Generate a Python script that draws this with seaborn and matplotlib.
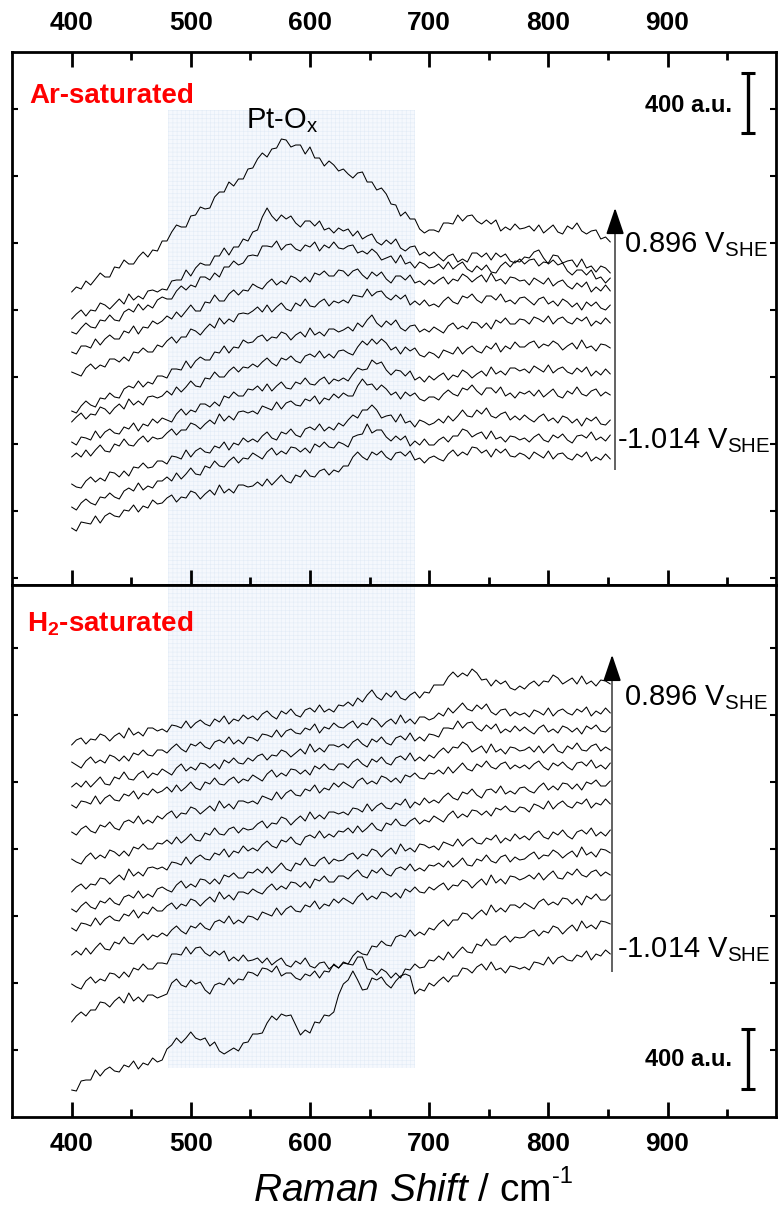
import numpy as np
import matplotlib
matplotlib.use("Agg")
import matplotlib.pyplot as plt
import seaborn as sns

# ---------------- data ----------------
wavenumber = list(range(400, 853, 4))          # Raman shift, cm-1 (114 points)
COUNT_TO_AU = 20 / 3                           # stored counts -> a.u.

# Ar-saturated, stacked spectra, top (0.896 V) ... bottom (-1.014 V)
ar_01 = [293,298,296,304,300,306,312,308,308,318,317,325,321,321,328,333,328,335,334,
         344,344,353,360,358,358,369,370,378,376,377,388,393,393,403,399,406,406,416,
         417,426,432,428,436,437,446,445,438,440,440,431,438,427,427,419,424,420,414,
         416,411,407,412,413,403,403,395,397,391,381,380,369,373,366,366,356,352,355,
         355,353,362,362,361,370,364,369,370,364,361,365,361,365,354,358,355,361,356,
         357,359,354,360,352,356,360,353,351,359,356,362,354,351,354,355,346,348,343]
ar_02 = [266,271,275,269,275,274,282,280,276,281,286,281,291,285,289,286,294,295,293,
         296,295,304,305,305,315,309,317,322,320,320,329,329,337,330,338,338,346,344,
         353,355,368,377,369,364,370,366,369,362,358,364,364,359,364,355,357,352,357,
         354,356,349,354,346,349,351,343,340,345,341,346,337,334,338,339,330,333,329,
         333,328,324,329,331,323,326,323,332,332,328,332,325,332,328,331,324,322,326,
         321,325,326,319,323,322,330,329,322,324,325,318,326,317,319,313,319,317,312]
ar_03 = [253,251,257,262,258,257,265,264,270,265,264,273,276,273,281,275,280,277,285,
         288,286,286,294,299,295,300,298,308,308,305,312,308,318,318,324,320,322,329,
         330,329,339,339,338,344,335,340,341,336,334,340,338,343,334,340,337,343,337,
         336,339,340,332,334,331,336,332,325,327,329,322,330,321,323,317,323,321,317,
         318,321,316,323,316,320,323,316,313,319,315,320,313,312,319,323,318,324,323,
         328,327,333,335,327,321,325,320,322,314,310,315,315,310,315,306,308,302,307]
ar_04 = [233,231,239,239,237,246,240,246,250,246,246,254,252,259,251,258,257,264,261,
         264,269,266,273,268,274,280,274,274,283,282,290,284,284,291,295,290,295,294,
         301,298,296,302,306,300,304,301,309,307,303,308,303,312,310,314,309,309,315,
         314,309,314,316,310,306,313,309,313,306,302,309,309,305,310,302,304,300,305,
         301,305,308,301,306,304,311,308,303,307,310,303,312,304,306,301,308,307,304,
         305,300,307,304,301,307,299,303,305,299,296,302,298,303,293,298,294,300,294]
ar_05 = [213,211,209,217,221,216,220,218,226,226,223,228,224,233,232,237,233,233,240,
         238,244,248,242,248,248,256,254,250,256,261,257,267,261,266,263,271,272,271,
         274,278,273,280,273,278,282,276,274,282,279,286,279,278,283,286,279,284,282,
         285,282,290,289,288,296,289,293,294,288,285,290,286,290,280,284,280,285,279,
         281,278,284,288,283,281,289,287,291,285,282,289,289,285,291,283,285,281,287,
         288,284,280,286,288,281,284,279,286,283,278,282,275,283,279,283,277,275,280]
ar_06 = [174,172,179,184,180,178,187,186,192,188,187,196,199,197,204,198,203,201,209,
         209,207,216,216,215,224,217,224,228,225,225,233,232,239,232,238,237,245,242,
         243,248,250,244,248,247,253,251,245,250,253,248,257,250,253,249,256,256,253,
         255,258,254,262,258,265,270,262,258,264,260,265,257,254,259,260,253,256,253,
         258,255,252,259,262,256,259,256,263,262,257,262,256,265,262,267,261,261,266,
         265,261,268,266,263,269,261,266,268,263,261,267,264,268,259,264,261,267,262]
ar_07 = [163,168,172,166,171,170,178,176,171,177,181,176,186,180,184,180,188,189,187,
         189,194,190,198,193,198,204,199,198,207,206,213,208,208,214,218,213,218,217,
         221,218,223,227,222,219,227,225,229,224,222,229,231,228,234,227,231,227,234,
         235,232,230,238,244,240,246,241,246,242,235,238,231,238,234,237,230,228,233,
         231,227,235,233,231,238,231,236,239,234,232,239,236,242,233,239,236,243,238,
         238,242,244,237,241,239,244,241,235,239,242,236,245,237,239,234,241,240,237]
ar_08 = [143,140,148,147,145,154,147,153,156,152,151,158,156,162,154,161,159,166,162,
         167,165,163,171,176,170,175,173,181,181,178,183,179,189,187,193,189,189,196,
         195,199,194,201,194,199,203,197,196,203,201,207,201,200,205,208,201,206,204,
         207,204,211,217,215,216,225,221,223,215,210,215,214,209,214,205,208,203,209,
         205,209,212,205,210,208,215,212,207,211,214,209,218,211,214,210,217,217,214,
         216,212,219,216,213,220,212,216,218,213,211,217,213,218,209,214,210,216,211]
ar_09 = [128,132,128,135,129,135,140,134,133,141,139,146,140,139,145,149,143,148,146,
         147,152,156,150,155,155,162,160,156,161,165,161,171,164,169,165,173,174,172,
         174,171,179,177,175,183,176,182,184,180,179,186,184,189,181,187,185,191,187,
         192,189,189,199,206,200,201,195,200,196,190,193,186,193,189,192,186,184,188,
         188,185,191,195,191,189,197,195,200,194,190,197,197,192,198,189,192,187,193,
         191,194,189,195,188,192,196,189,187,194,191,198,191,189,194,196,189,193,190]
ar_10 = [101,98,97,104,108,103,107,104,113,112,108,114,109,118,117,122,117,118,124,
         124,121,129,128,126,135,128,134,137,133,132,139,137,143,135,142,140,147,143,
         146,143,149,153,147,145,153,151,156,150,148,156,158,155,161,154,158,155,162,
         159,165,170,167,175,175,180,175,167,169,170,163,171,162,164,158,165,163,160,
         162,166,162,169,164,169,175,169,168,175,171,177,169,167,171,173,165,169,165,
         170,166,163,168,171,164,167,162,169,167,162,166,159,167,164,168,161,160,165]
ar_11 = [78,75,82,86,82,80,88,87,92,88,86,94,97,94,102,95,99,97,104,
         104,108,104,112,106,111,117,111,110,119,117,124,119,118,124,128,122,127,126,
         132,129,126,133,137,130,134,131,138,137,133,137,132,141,138,143,138,137,143,
         141,138,148,150,151,161,152,155,155,148,144,149,145,149,139,144,140,146,140,
         140,145,148,143,149,149,156,154,148,151,153,146,154,146,148,143,149,148,145,
         147,143,148,151,145,143,150,147,151,145,142,149,150,147,153,145,148,144,150]
ar_12 = [57,54,63,62,61,69,62,69,72,69,68,75,74,80,73,79,77,85,81,
         82,87,90,83,88,87,94,92,86,91,95,90,100,92,96,92,100,100,98,
         99,103,99,106,100,105,110,104,102,110,108,115,109,108,114,116,110,115,113,
         119,119,128,133,128,125,133,130,134,128,125,132,133,129,134,125,127,122,127,
         129,126,124,131,135,129,133,130,138,137,132,135,128,136,132,136,129,128,132,
         130,126,133,130,127,134,126,131,132,127,125,131,128,133,124,128,125,131,126]

# H2-saturated, stacked spectra, top (0.896 V) ... bottom (-1.014 V)
h2_01 = [372,377,379,373,378,377,383,381,376,381,384,379,389,382,385,381,389,389,386,
         388,385,392,391,389,396,389,394,397,393,391,398,395,401,393,398,396,402,398,
         401,397,403,406,401,398,406,403,408,402,400,407,409,405,412,405,408,405,412,
         411,415,411,419,415,422,427,420,417,424,420,426,419,417,422,425,419,425,424,
         432,432,432,440,445,440,444,441,448,444,437,438,431,437,433,436,429,427,431,
         428,433,436,431,436,435,442,439,433,436,439,433,441,433,436,431,437,436,433]
h2_02 = [355,352,349,356,360,354,357,354,362,360,356,361,356,364,362,367,362,361,367,
         367,364,369,373,368,365,373,371,375,370,368,375,377,374,380,373,377,373,380,
         379,376,383,382,380,387,380,386,388,384,383,389,387,393,384,390,388,394,390,
         389,393,396,389,394,392,399,396,390,395,398,393,402,394,398,393,400,400,397,
         399,404,401,409,404,409,414,408,406,412,408,413,405,402,407,408,401,405,402,
         404,400,407,405,402,409,401,406,408,404,402,408,405,410,401,406,403,409,404]
h2_03 = [330,334,330,336,330,335,340,333,332,340,338,345,338,337,343,346,339,344,342,
         348,345,342,349,353,346,350,347,354,353,349,353,348,357,354,359,354,353,359,
         356,361,363,357,362,361,367,365,360,364,368,363,373,365,369,365,372,372,370,
         373,369,375,378,373,370,378,375,380,374,372,379,381,377,384,376,380,376,383,
         382,380,389,389,388,396,389,394,395,389,386,392,388,393,384,388,385,391,386,
         390,386,383,389,392,385,388,384,391,389,385,389,383,391,388,392,386,385,390]
h2_04 = [312,309,316,315,313,321,313,319,322,317,316,323,321,326,318,324,322,328,324,
         326,330,325,332,326,330,335,329,327,335,333,339,333,332,337,340,334,338,336,
         342,339,336,343,347,340,344,341,348,347,343,347,342,351,348,353,348,347,353,
         353,349,355,358,353,350,358,355,360,354,352,359,361,357,364,356,360,356,362,
         359,365,369,364,370,369,375,372,365,368,371,364,373,365,368,363,370,369,366,
         367,370,365,371,364,369,373,366,364,371,368,374,367,366,371,373,366,370,367]
h2_05 = [285,282,288,291,286,284,292,290,295,289,287,295,297,294,301,293,297,294,301,
         298,303,306,299,304,303,310,308,303,307,311,306,316,309,313,308,316,316,314,
         316,313,321,319,317,325,318,324,327,322,321,328,326,332,324,329,327,334,330,
         335,332,329,336,339,333,336,333,341,339,335,339,334,342,340,344,339,338,344,
         343,347,343,350,344,349,354,348,346,353,350,356,350,348,353,355,348,352,349,
         352,348,353,356,350,347,354,351,355,350,347,354,355,351,357,349,352,348,354]
h2_06 = [258,255,253,260,264,258,262,259,267,265,261,266,261,270,268,273,268,268,274,
         273,277,273,280,274,278,283,277,276,284,282,289,283,282,288,290,284,289,287,
         288,293,296,289,294,293,300,298,292,297,301,296,305,298,302,298,305,305,303,
         305,302,309,308,305,313,306,311,314,309,308,314,312,318,309,315,312,319,314,
         317,314,320,324,319,317,325,323,328,322,319,327,328,324,331,323,326,323,329,
         330,326,324,330,334,327,331,327,334,333,328,333,327,335,333,337,331,331,336]
h2_07 = [225,230,233,228,233,232,239,238,233,238,242,237,248,241,245,241,249,250,248,
         250,247,255,254,252,260,253,259,262,258,257,264,262,268,260,266,264,271,266,
         269,266,272,276,271,269,277,275,280,274,272,280,282,279,286,279,283,280,286,
         285,289,284,291,285,289,294,288,286,294,292,298,292,291,296,299,293,297,295,
         301,298,295,302,306,299,303,300,307,306,302,306,301,309,307,311,306,305,310,
         309,305,313,311,308,316,308,313,316,311,309,315,313,318,309,314,312,318,313]
h2_08 = [208,205,211,215,210,208,216,214,219,214,212,220,222,219,226,219,223,220,228,
         230,227,225,232,236,229,233,230,238,237,233,238,233,242,240,244,239,239,245,
         244,248,244,250,244,249,254,248,246,254,252,259,252,251,257,260,253,258,256,
         257,262,264,258,263,261,268,266,260,265,269,263,273,266,269,265,273,272,269,
         271,267,275,273,271,278,271,276,279,274,273,279,277,282,274,279,276,283,278,
         281,277,283,286,280,278,285,282,287,281,278,285,287,283,289,281,285,281,287]
h2_09 = [189,186,194,193,191,199,192,198,201,197,196,203,201,207,199,205,203,210,206,
         206,211,214,208,213,211,218,216,211,216,220,215,225,218,222,217,225,225,223,
         228,225,223,229,233,227,231,228,235,234,230,235,229,238,236,241,235,235,241,
         241,238,243,247,241,239,247,244,249,243,241,248,250,247,253,246,249,246,252,
         251,254,250,256,250,254,259,252,251,258,256,262,256,254,260,262,255,260,257,
         258,262,265,258,262,261,267,264,259,263,266,260,270,262,265,260,268,267,264]
h2_10 = [162,166,162,169,163,169,174,168,167,175,173,180,174,173,179,183,177,182,180,
         184,181,187,191,186,183,191,189,194,189,187,195,197,194,201,193,197,194,201,
         200,197,205,203,201,209,202,208,211,206,205,212,210,216,208,213,211,218,214,
         219,216,213,220,224,217,221,218,225,224,220,224,219,228,225,230,225,224,230,
         227,231,234,227,232,231,237,235,229,234,238,232,242,234,238,233,241,240,237,
         239,242,238,244,237,242,246,239,238,245,242,248,242,240,245,247,241,245,242]
h2_11 = [133,130,128,136,140,134,138,136,144,143,139,145,140,149,147,153,148,148,154,
         154,153,163,163,162,170,163,169,170,164,161,166,162,166,156,160,156,162,156,
         157,159,154,159,152,156,159,152,150,156,153,159,151,149,154,155,148,152,149,
         154,153,161,166,163,162,171,170,176,172,171,180,182,180,187,181,185,182,189,
         187,193,197,191,197,197,204,203,198,203,207,202,212,205,209,205,212,212,209,
         214,211,208,215,218,212,215,212,219,218,213,218,212,221,218,223,217,217,222]
h2_12 = [95,101,105,101,107,107,115,114,110,116,120,114,124,116,120,115,122,122,119,
         121,123,134,138,132,130,137,133,135,127,123,132,134,132,139,133,138,137,145,
         144,141,149,148,145,151,141,144,144,139,137,143,141,146,139,146,145,153,149,
         155,153,152,160,160,148,147,142,148,145,139,144,139,148,147,153,149,150,157,
         156,161,157,165,159,165,170,165,164,173,171,178,172,172,178,181,175,180,179,
         180,185,187,181,186,184,191,189,183,188,192,186,196,189,192,188,196,195,193]
h2_13 = [27,26,36,37,37,47,41,47,50,46,45,52,50,56,48,54,52,59,55,
         57,68,72,79,74,79,85,79,77,79,71,75,66,63,66,69,66,74,75,
         83,83,84,94,101,97,103,101,102,92,82,87,84,95,94,102,101,105,122,
         133,137,146,137,127,128,139,137,140,133,129,136,141,143,141,123,128,126,134,
         131,136,140,135,141,141,149,148,144,150,153,147,155,147,149,144,151,150,148,
         150,147,155,154,152,160,153,159,161,157,156,162,160,166,157,163,161,167,163]

ar_spectra = [ar_01, ar_02, ar_03, ar_04, ar_05, ar_06, ar_07, ar_08, ar_09, ar_10, ar_11, ar_12]
h2_spectra = [h2_01, h2_02, h2_03, h2_04, h2_05, h2_06, h2_07, h2_08, h2_09, h2_10,
              h2_11, h2_12, h2_13]

xticks_major = [400, 500, 600, 700, 800, 900]
xticks_minor = [450, 550, 650, 750, 850, 950]
pt_ox_region = (481, 688)
potential_top = "0.896 V$_{\\mathrm{SHE}}$"
potential_bottom = "-1.014 V$_{\\mathrm{SHE}}$"
scale_bar_au = 400

# ---------------- style ----------------
sns.set_style("ticks")
plt.rcParams["font.family"] = ["Liberation Sans", "DejaVu Sans"]
plt.rcParams["mathtext.fontset"] = "custom"
plt.rcParams["mathtext.rm"] = "Liberation Sans"
plt.rcParams["mathtext.it"] = "Liberation Sans:italic"
plt.rcParams["mathtext.bf"] = "Liberation Sans:bold"
plt.rcParams["hatch.linewidth"] = 0.4
for key in ("text.color", "axes.labelcolor", "xtick.color", "ytick.color", "axes.edgecolor"):
    plt.rcParams[key] = "black"

fig = plt.figure(figsize=(7.78, 12.09), dpi=100)
L, W = 12 / 778, 764 / 778
ax_ar = fig.add_axes([L, 1 - 585 / 1209, W, 533 / 1209])
ax_h2 = fig.add_axes([L, 1 - 1117 / 1209, W, 532 / 1209])


def draw_spectra(ax, spectra):
    for s in spectra:
        n = min(len(s), len(wavenumber))
        sns.lineplot(x=wavenumber[:n], y=np.asarray(s[:n]) * COUNT_TO_AU, ax=ax,
                     color="black", linewidth=0.75, estimator=None, sort=False, legend=False)


def style_axis(ax, ymax_px, top_labels):
    ax.set_xlim(350, 991)
    ax.set_ylim(0, ymax_px * COUNT_TO_AU)
    ax.set_xlabel("")
    ax.set_ylabel("")
    for sp in ax.spines.values():
        sp.set_linewidth(2.0)
        sp.set_color("black")
    ax.set_xticks(xticks_major)
    ax.set_xticks(xticks_minor, minor=True)
    ax.set_xticklabels([str(t) for t in xticks_major], fontweight="bold", fontsize=19,
                       color="black")
    if top_labels:
        ax.tick_params(axis="x", which="both", direction="in", top=True, bottom=True,
                       labeltop=True, labelbottom=False, width=2, pad=12)
    else:
        ax.tick_params(axis="x", which="both", direction="in", top=False, bottom=True,
                       labeltop=False, labelbottom=True, width=2, pad=11)
    ax.tick_params(axis="x", which="major", length=11)
    ax.tick_params(axis="x", which="minor", length=6)
    ax.tick_params(axis="y", which="both", direction="in", left=True, right=True,
                   labelleft=False, labelright=False, length=4, width=1.5)


# shaded Pt-Ox region
for ax, (lo, hi) in ((ax_ar, (0, 475 / 533)), (ax_h2, (49 / 532, 1))):
    ax.axvspan(*pt_ox_region, ymin=lo, ymax=hi, facecolor="#f5f8fd",
               edgecolor="#e3ecf7", hatch="++++", linewidth=0, zorder=0)

draw_spectra(ax_ar, ar_spectra)
draw_spectra(ax_h2, h2_spectra)

style_axis(ax_ar, 533, True)
style_axis(ax_h2, 532, False)
ax_ar.set_yticks(np.arange(47, 3553, 447))
ax_h2.set_yticks(np.arange(447, 3546, 447))

# potential arrows
for ax, xa, y_tip, y_base, y_bot in ((ax_ar, 856, 2533, 2400, 767),
                                     (ax_h2, 853.5, 3100, 2980, 967)):
    ax.vlines(xa, y_bot, y_base, color="#555555", linewidth=1.3)
    ax.annotate("", xy=(xa, y_tip), xytext=(xa, y_base),
                arrowprops=dict(arrowstyle="-|>,head_length=0.65,head_width=0.22",
                                mutation_scale=25, color="black", lw=1.3))

ax_ar.text(863.5, 2220, potential_top, fontsize=21, va="baseline", ha="left")
ax_ar.text(857.5, 913, potential_bottom, fontsize=21, va="baseline", ha="left")
ax_h2.text(863.5, 2747, potential_top, fontsize=21, va="baseline", ha="left")
ax_h2.text(857.5, 1067, potential_bottom, fontsize=21, va="baseline", ha="left")

# scale bars
for ax, yc, ytxt in ((ax_ar, 3213, 3200), (ax_h2, 387, 380)):
    ax.errorbar([967.5], [yc], yerr=scale_bar_au / 2, fmt="none", ecolor="black",
                elinewidth=2.4, capsize=5, capthick=2.2)
    ax.text(954.5, ytxt, f"{scale_bar_au} a.u.", fontsize=17, fontweight="bold",
            ha="right", va="center")

# labels
ax_ar.text(546, 3047, "Pt-O$_{\\mathrm{x}}$", fontsize=21, va="baseline", ha="left")
ax_ar.text(0.0223, 0.904, "Ar-saturated", transform=ax_ar.transAxes, color="#ff0000",
           fontsize=20, fontweight="bold", va="baseline", ha="left")
ax_h2.text(0.0196, 0.9117, "H$_{\\mathbf{2}}$-saturated", transform=ax_h2.transAxes,
           color="#ff0000", fontsize=20, fontweight="bold", va="baseline", ha="left")

# x-axis title with hyphen-style superscript
FW, FH = 778, 1209
xl = fig.text(253 / FW, 1 - 1201 / FH, "$\\mathit{Raman\\ Shift}$ / cm",
              fontsize=28, ha="left", va="baseline")
fig.canvas.draw()
bb = xl.get_window_extent()
fig.text((bb.x1 + 1) / FW, 1 - 1183 / FH, "-1", fontsize=17, ha="left", va="baseline")

fig.savefig("out.png", dpi=100)
